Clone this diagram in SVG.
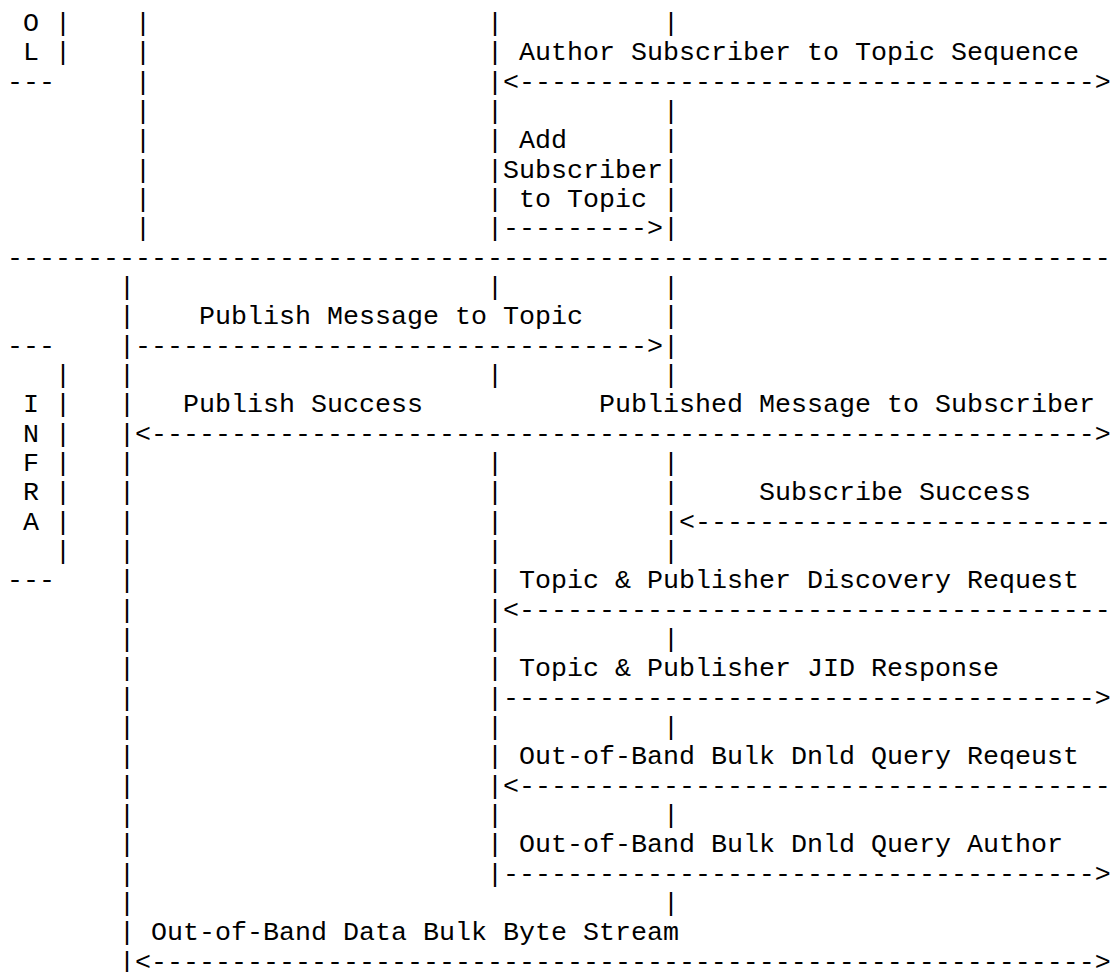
<svg xmlns="http://www.w3.org/2000/svg" width="1114" height="972" viewBox="0 0 1114 972">
<style>
text{font-family:"Liberation Mono","Courier New",monospace;font-size:26.67px;fill:#000;white-space:pre}
</style>
<rect width="1114" height="972" fill="#fff"/>
<g id="lane-OL">
<text x="23" y="31">O</text>
<text x="23" y="60.33">L</text>
<text x="55" y="31">|</text>
<text x="55" y="60.33">|</text>
<text x="7" y="89.67">---</text>
</g>
<g id="lane-INFRA">
<text x="7" y="353.67">---</text>
<text x="23" y="412.33">I</text>
<text x="23" y="441.67">N</text>
<text x="23" y="471">F</text>
<text x="23" y="500.33">R</text>
<text x="23" y="529.67">A</text>
<text x="55"><tspan x="55" y="383">|</tspan><tspan x="55" y="412.33">|</tspan><tspan x="55" y="441.67">|</tspan><tspan x="55" y="471">|</tspan><tspan x="55" y="500.33">|</tspan><tspan x="55" y="529.67">|</tspan><tspan x="55" y="559">|</tspan></text>
<text x="7" y="588.33">---</text>
</g>
<g id="separator">
<text x="7" y="265.67">---------------------------------------------------------------------</text>
</g>
<g id="lifeline-publisher">
<text><tspan x="135" y="31">|</tspan><tspan x="135" y="60.33">|</tspan><tspan x="135" y="89.67">|</tspan><tspan x="135" y="119">|</tspan><tspan x="135" y="148.33">|</tspan><tspan x="135" y="177.67">|</tspan><tspan x="135" y="207">|</tspan><tspan x="135" y="236.33">|</tspan></text>
<text><tspan x="119" y="295">|</tspan><tspan x="119" y="324.33">|</tspan><tspan x="119" y="353.67">|</tspan><tspan x="119" y="383">|</tspan><tspan x="119" y="412.33">|</tspan><tspan x="119" y="441.67">|</tspan><tspan x="119" y="471">|</tspan><tspan x="119" y="500.33">|</tspan><tspan x="119" y="529.67">|</tspan><tspan x="119" y="559">|</tspan><tspan x="119" y="588.33">|</tspan><tspan x="119" y="617.67">|</tspan><tspan x="119" y="647">|</tspan><tspan x="119" y="676.33">|</tspan><tspan x="119" y="705.67">|</tspan><tspan x="119" y="735">|</tspan><tspan x="119" y="764.33">|</tspan><tspan x="119" y="793.67">|</tspan><tspan x="119" y="823">|</tspan><tspan x="119" y="852.33">|</tspan><tspan x="119" y="881.67">|</tspan><tspan x="119" y="911">|</tspan><tspan x="119" y="940.33">|</tspan><tspan x="119" y="969.67">|</tspan></text>
</g>
<g id="lifeline-server">
<text><tspan x="487" y="31">|</tspan><tspan x="487" y="60.33">|</tspan><tspan x="487" y="89.67">|</tspan><tspan x="487" y="119">|</tspan><tspan x="487" y="148.33">|</tspan><tspan x="487" y="177.67">|</tspan><tspan x="487" y="207">|</tspan><tspan x="487" y="236.33">|</tspan><tspan x="487" y="295">|</tspan><tspan x="487" y="383">|</tspan><tspan x="487" y="471">|</tspan><tspan x="487" y="500.33">|</tspan><tspan x="487" y="529.67">|</tspan><tspan x="487" y="559">|</tspan><tspan x="487" y="588.33">|</tspan><tspan x="487" y="617.67">|</tspan><tspan x="487" y="647">|</tspan><tspan x="487" y="676.33">|</tspan><tspan x="487" y="705.67">|</tspan><tspan x="487" y="735">|</tspan><tspan x="487" y="764.33">|</tspan><tspan x="487" y="793.67">|</tspan><tspan x="487" y="823">|</tspan><tspan x="487" y="852.33">|</tspan><tspan x="487" y="881.67">|</tspan></text>
</g>
<g id="lifeline-topic">
<text><tspan x="663" y="31">|</tspan><tspan x="663" y="119">|</tspan><tspan x="663" y="148.33">|</tspan><tspan x="663" y="177.67">|</tspan><tspan x="663" y="207">|</tspan><tspan x="663" y="236.33">|</tspan><tspan x="663" y="295">|</tspan><tspan x="663" y="324.33">|</tspan><tspan x="663" y="353.67">|</tspan><tspan x="663" y="383">|</tspan><tspan x="663" y="471">|</tspan><tspan x="663" y="500.33">|</tspan><tspan x="663" y="529.67">|</tspan><tspan x="663" y="559">|</tspan><tspan x="663" y="647">|</tspan><tspan x="663" y="735">|</tspan><tspan x="663" y="823">|</tspan><tspan x="663" y="911">|</tspan></text>
</g>
<g id="connectors">
<text x="503" y="89.67">&lt;------------------------------------&gt;</text>
<text x="503" y="236.33">---------&gt;</text>
<text x="135" y="353.67">--------------------------------&gt;</text>
<text x="135" y="441.67">&lt;-----------------------------------------------------------&gt;</text>
<text x="679" y="529.67">&lt;--------------------------</text>
<text x="503" y="617.67">&lt;-------------------------------------</text>
<text x="503" y="705.67">-------------------------------------&gt;</text>
<text x="503" y="793.67">&lt;-------------------------------------</text>
<text x="503" y="881.67">-------------------------------------&gt;</text>
<text x="135" y="969.67">&lt;-----------------------------------------------------------&gt;</text>
</g>
<g id="labels">
<text x="519" y="60.33">Author Subscriber to Topic Sequence</text>
<text x="519" y="148.33">Add</text>
<text x="503" y="177.67">Subscriber</text>
<text x="519" y="207">to Topic</text>
<text x="199" y="324.33">Publish Message to Topic</text>
<text x="183" y="412.33">Publish Success</text>
<text x="599" y="412.33">Published Message to Subscriber</text>
<text x="759" y="500.33">Subscribe Success</text>
<text x="519" y="588.33">Topic &amp; Publisher Discovery Request</text>
<text x="519" y="676.33">Topic &amp; Publisher JID Response</text>
<text x="519" y="764.33">Out-of-Band Bulk Dnld Query Reqeust</text>
<text x="519" y="852.33">Out-of-Band Bulk Dnld Query Author</text>
<text x="151" y="940.33">Out-of-Band Data Bulk Byte Stream</text>
</g>
</svg>
